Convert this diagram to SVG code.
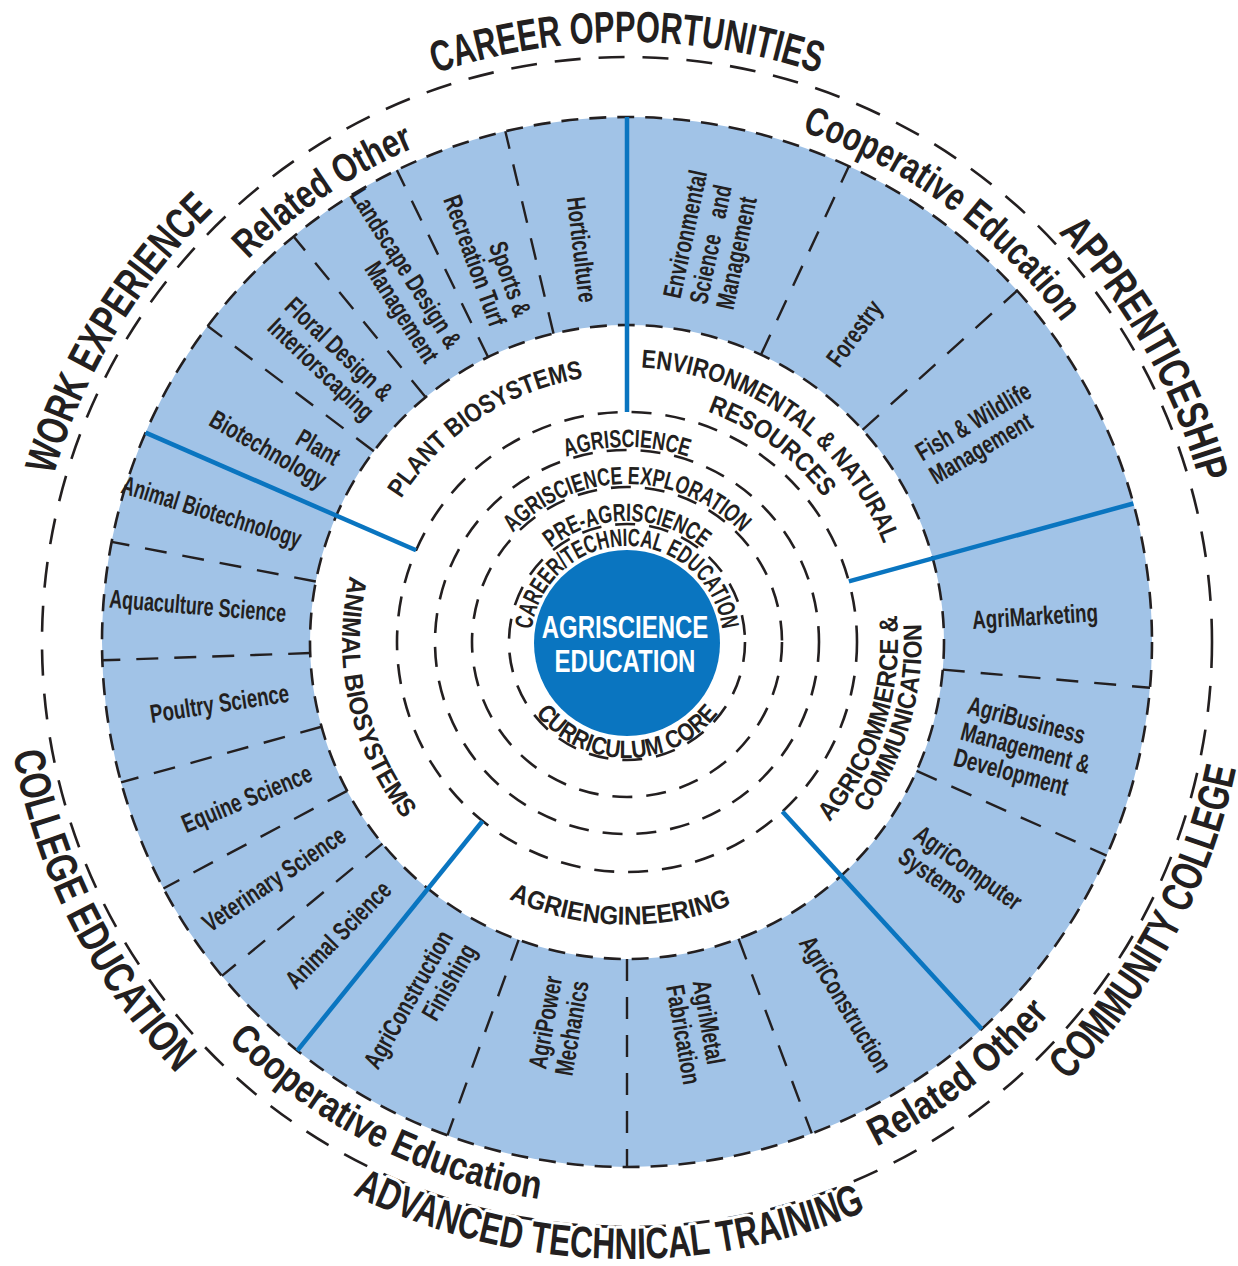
<svg xmlns="http://www.w3.org/2000/svg" width="1238" height="1266" viewBox="0 0 1238 1266">
<style>
text{font-family:"Liberation Sans",Arial,sans-serif;font-weight:bold;fill:#231f20}
.ring{fill:none;stroke:#a1c3e7;stroke-width:208}
.dash{fill:none;stroke:#231f20;stroke-width:2.6}
.edge{stroke-dasharray:17 11}
.inner{stroke-dasharray:20 14}
.outer{stroke-dasharray:26 18}
#dividers line{stroke:#231f20;stroke-width:2.4;stroke-dasharray:22 16}
#spokes line{stroke:#0a75c0;stroke-width:4.5}
.core{font-size:25px}
.title{font-size:26px}
.band{font-size:40px}
.big{font-size:44px}
.lbl{font-size:26px}
.hub{font-size:32px;fill:#fff}
.halo{stroke:#fff;stroke-width:6px;paint-order:stroke;stroke-linejoin:round}
</style>
<defs>
<!-- arcs used as text baselines; all share the centre (627,642) -->
<path id="a-cte" d="M531,642 A96,96 0 0 1 723,642"/>
<path id="a-pre" d="M506,642 A121,121 0 0 1 748,642"/>
<path id="a-exp" d="M469,642 A158,158 0 0 1 785,642"/>
<path id="a-agr" d="M432,642 A195,195 0 0 1 822,642"/>
<path id="a-cur" d="M511,642 A116,116 0 0 0 743,642"/>
<path id="a-plant" d="M403.52,789.92 A268,268 0 0 1 850.48,494.08"/>
<path id="a-env1" d="M404.52,480.36 A275,275 0 0 1 849.48,803.64"/>
<path id="a-env2" d="M430.86,496.86 A244,244 0 0 1 823.14,787.14"/>
<path id="a-com1" d="M543.26,899.74 A271,271 0 0 0 710.74,384.26"/>
<path id="a-com2" d="M545.41,926.53 A296,296 0 0 0 708.59,357.47"/>
<path id="a-eng" d="M343.10,634.57 A284,284 0 0 0 910.90,649.43"/>
<path id="a-ani" d="M565.31,363.75 A285,285 0 0 0 688.69,920.25"/>
<path id="a-rel1" d="M179.32,943.96 A540,540 0 0 1 1074.68,340.04"/>
<path id="a-coop1" d="M191.80,322.31 A540,540 0 0 1 1062.20,961.69"/>
<path id="a-rel2" d="M178.76,985.95 A565,565 0 0 0 1075.24,298.05"/>
<path id="a-coop2" d="M123.58,385.50 A565,565 0 0 0 1130.42,898.50"/>
<path id="a-career" d="M27,642 A600,600 0 0 1 1227,642"/>
<path id="a-work" d="M317.74,1152.74 A597,597 0 0 1 936.26,131.26"/>
<path id="a-appr" d="M333.03,122.40 A597,597 0 0 1 920.97,1161.60"/>
<path id="a-cc" d="M332.12,1189.66 A622,622 0 0 0 921.88,94.34"/>
<path id="a-adv" d="M10.30,622.62 A617,617 0 0 0 1243.70,661.38"/>
<path id="a-col" d="M343.71,86.01 A624,624 0 0 0 910.29,1197.99"/>
</defs>

<rect width="1238" height="1266" fill="#fff"/>

<!-- light blue band holding the programme areas -->
<g id="band">
<circle class="ring" cx="627" cy="642" r="421"/>
<circle class="dash edge" cx="627" cy="642" r="317"/>
<circle class="dash edge" cx="627" cy="642" r="525"/>
</g>

<!-- concentric level rings and the outer opportunity ring -->
<g id="levels">
<circle class="dash inner" cx="627" cy="642" r="118"/>
<circle class="dash inner" cx="627" cy="642" r="155"/>
<circle class="dash inner" cx="627" cy="642" r="192"/>
<circle class="dash inner" cx="627" cy="642" r="230"/>
<circle class="dash outer" cx="627" cy="642" r="585"/>
</g>

<g id="connectors">
<g id="dividers">
<line x1="373.83" y1="451.22" x2="207.71" y2="326.04"/>
<line x1="425.67" y1="397.14" x2="293.57" y2="236.47"/>
<line x1="488.04" y1="357.08" x2="396.86" y2="170.14"/>
<line x1="553.54" y1="333.63" x2="505.33" y2="131.29"/>
<line x1="760.97" y1="354.70" x2="848.87" y2="166.19"/>
<line x1="862.58" y1="429.89" x2="1017.15" y2="290.71"/>
<line x1="942.79" y1="669.63" x2="1150.0" y2="687.76"/>
<line x1="916.60" y1="770.94" x2="1106.61" y2="855.54"/>
<line x1="738.53" y1="938.73" x2="811.72" y2="1133.43"/>
<line x1="627" y1="959" x2="627" y2="1167"/>
<line x1="518.58" y1="939.88" x2="447.44" y2="1135.34"/>
<line x1="382.40" y1="843.64" x2="221.90" y2="975.94"/>
<line x1="347.10" y1="790.82" x2="163.45" y2="888.47"/>
<line x1="321.53" y1="726.72" x2="121.09" y2="782.30"/>
<line x1="310.19" y1="653.06" x2="102.32" y2="660.32"/>
<line x1="315.82" y1="581.51" x2="111.64" y2="541.82"/>
</g>
<g id="spokes">
<line x1="627" y1="412" x2="627" y2="117"/>
<line x1="416.08" y1="550.29" x2="145.54" y2="432.66"/>
<line x1="848.85" y1="581.31" x2="1133.39" y2="503.47"/>
<line x1="782.39" y1="811.57" x2="981.68" y2="1029.07"/>
<line x1="482.57" y1="821.0" x2="297.32" y2="1050.58"/>
</g>
</g>

<g id="hub">
<circle cx="627" cy="643" r="93" fill="#0a75c0"/>
<text class="hub" text-anchor="middle" transform="translate(625 638) scale(.75 1)">AGRISCIENCE</text>
<text class="hub" text-anchor="middle" transform="translate(625 672) scale(.75 1)">EDUCATION</text>
</g>

<g id="curriculum-levels">
<text class="core"><textPath href="#a-cte" startOffset="50%" text-anchor="middle" textLength="276" lengthAdjust="spacingAndGlyphs">CAREER/TECHNICAL EDUCATION</textPath></text>
<text class="core"><textPath href="#a-pre" startOffset="50%" text-anchor="middle" textLength="165" lengthAdjust="spacingAndGlyphs">PRE-AGRISCIENCE</textPath></text>
<text class="core"><textPath href="#a-exp" startOffset="50%" text-anchor="middle" textLength="255" lengthAdjust="spacingAndGlyphs">AGRISCIENCE EXPLORATION</textPath></text>
<text class="core"><textPath href="#a-agr" startOffset="50%" text-anchor="middle" textLength="124" lengthAdjust="spacingAndGlyphs">AGRISCIENCE</textPath></text>
<text class="core"><textPath href="#a-cur" startOffset="50%" text-anchor="middle" textLength="210" lengthAdjust="spacingAndGlyphs">CURRICULUM CORE</textPath></text>
</g>

<g id="plant-biosystems">
<text class="title"><textPath href="#a-plant" startOffset="50%" text-anchor="middle" textLength="225" lengthAdjust="spacingAndGlyphs">PLANT BIOSYSTEMS</textPath></text>
<text class="lbl" text-anchor="end" transform="translate(330.82 471) rotate(30) scale(.72 1)"><tspan x="0" y="-5.5">Plant</tspan><tspan x="0" y="21.5">Biotechnology</tspan></text>
<text class="lbl" text-anchor="end" transform="translate(378.92 406.58) rotate(43.5) scale(.72 1)"><tspan x="0" y="-5.5">Floral Design &amp;</tspan><tspan x="0" y="21.5">Interiorscaping</tspan></text>
<text class="lbl" text-anchor="end" transform="translate(443.24 353.56) rotate(57.5) scale(.72 1)"><tspan x="0" y="-5.5">Landscape Design &amp;</tspan><tspan x="0" y="21.5">Management</tspan></text>
<text class="lbl" text-anchor="end" transform="translate(510.03 320.63) rotate(70) scale(.72 1)"><tspan x="0" y="-5.5">Sports &amp;</tspan><tspan x="0" y="21.5">Recreation Turf</tspan></text>
<text class="lbl" text-anchor="end" transform="translate(587.10 302.34) rotate(83.3) scale(.72 1)" y="8">Horticulture</text>
</g>

<g id="environmental-natural-resources">
<text class="title"><textPath href="#a-env1" startOffset="50%" text-anchor="middle" textLength="317" lengthAdjust="spacingAndGlyphs">ENVIRONMENTAL &amp; NATURAL</textPath></text>
<text class="title"><textPath href="#a-env2" startOffset="50%" text-anchor="middle" textLength="147" lengthAdjust="spacingAndGlyphs">RESOURCES</textPath></text>
<text class="lbl" transform="translate(698.94 303.56) rotate(-78) scale(.72 1)"><tspan x="0" y="-19">Environmental</tspan><tspan x="0" y="8">Science <tspan dx="16">and</tspan></tspan><tspan x="0" y="35">Management</tspan></text>
<text class="lbl" transform="translate(832.81 363.86) rotate(-53.5) scale(.72 1)" y="8">Forestry</text>
<text class="lbl" transform="translate(925.12 466.39) rotate(-30.5) scale(.72 1)"><tspan x="0" y="-5.5">Fish &amp; Wildlife</tspan><tspan x="0" y="21.5">Management</tspan></text>
</g>

<g id="agricommerce-communication">
<text class="title"><textPath href="#a-com1" startOffset="50%" text-anchor="middle" textLength="224" lengthAdjust="spacingAndGlyphs">AGRICOMMERCE &amp;</textPath></text>
<text class="title"><textPath href="#a-com2" startOffset="50%" text-anchor="middle" textLength="201" lengthAdjust="spacingAndGlyphs">COMMUNICATION</textPath></text>
<text class="lbl" transform="translate(972.35 620.88) rotate(-3.5) scale(.72 1)" y="8">AgriMarketing</text>
<text class="lbl" transform="translate(961.21 731.55) rotate(15) scale(.72 1)"><tspan x="0" y="-19">AgriBusiness</tspan><tspan x="0" y="8">Management &amp;</tspan><tspan x="0" y="35">Development</tspan></text>
<text class="lbl" transform="translate(908.69 842.92) rotate(35.5) scale(.72 1)"><tspan x="0" y="-5.5">AgriComputer</tspan><tspan x="0" y="21.5">Systems</tspan></text>
</g>

<g id="agriengineering">
<text class="title"><textPath href="#a-eng" startOffset="50%" text-anchor="middle" textLength="229" lengthAdjust="spacingAndGlyphs">AGRIENGINEERING</textPath></text>
<text class="lbl" transform="translate(805.20 938.58) rotate(59) scale(.72 1)" y="8">AgriConstruction</text>
<text class="lbl" transform="translate(687.08 982.74) rotate(80) scale(.72 1)"><tspan x="0" y="-5.5">AgriMetal</tspan><tspan x="0" y="21.5">Fabrication</tspan></text>
<text class="lbl" text-anchor="end" transform="translate(567.61 978.80) rotate(-80) scale(.72 1)"><tspan x="0" y="-5.5">AgriPower</tspan><tspan x="0" y="21.5">Mechanics</tspan></text>
<text class="lbl" text-anchor="end" transform="translate(458.59 939.66) rotate(-60.5) scale(.72 1)"><tspan x="0" y="-5.5">AgriConstruction</tspan><tspan x="0" y="21.5">Finishing</tspan></text>
</g>

<g id="animal-biosystems">
<text class="title"><textPath href="#a-ani" startOffset="50%" text-anchor="middle" textLength="258" lengthAdjust="spacingAndGlyphs">ANIMAL BIOSYSTEMS</textPath></text>
<text class="lbl" text-anchor="end" transform="translate(300.47 540.30) rotate(17.3) scale(.68 1)" y="8">Animal Biotechnology</text>
<text class="lbl" text-anchor="end" transform="translate(286.15 613.98) rotate(4.7) scale(.69 1)" y="8">Aquaculture Science</text>
<text class="lbl" text-anchor="end" transform="translate(288.94 693.73) rotate(-8.7) scale(.72 1)" y="8">Poultry Science</text>
<text class="lbl" text-anchor="end" transform="translate(311.03 772.88) rotate(-22.5) scale(.72 1)" y="8">Equine Science</text>
<text class="lbl" text-anchor="end" transform="translate(343.47 833.24) rotate(-34) scale(.72 1)" y="8">Veterinary Science</text>
<text class="lbl" text-anchor="end" transform="translate(387.29 885.93) rotate(-45.5) scale(.72 1)" y="8">Animal Science</text>
</g>

<g id="experience-options">
<text class="band"><textPath href="#a-rel1" startOffset="50%" text-anchor="middle" textLength="202" lengthAdjust="spacingAndGlyphs">Related Other</textPath></text>
<text class="band"><textPath href="#a-coop1" startOffset="50%" text-anchor="middle" textLength="328" lengthAdjust="spacingAndGlyphs">Cooperative Education</textPath></text>
<text class="band"><textPath href="#a-rel2" startOffset="50%" text-anchor="middle" textLength="220" lengthAdjust="spacingAndGlyphs">Related Other</textPath></text>
<text class="band"><textPath href="#a-coop2" startOffset="50%" text-anchor="middle" textLength="355" lengthAdjust="spacingAndGlyphs">Cooperative Education</textPath></text>
</g>

<g id="pathways">
<text class="big"><textPath href="#a-career" startOffset="50%" text-anchor="middle" textLength="390" lengthAdjust="spacingAndGlyphs">CAREER OPPORTUNITIES</textPath></text>
<text class="big"><textPath href="#a-work" startOffset="50%" text-anchor="middle" textLength="313" lengthAdjust="spacingAndGlyphs">WORK EXPERIENCE</textPath></text>
<text class="big"><textPath href="#a-appr" startOffset="50%" text-anchor="middle" textLength="291" lengthAdjust="spacingAndGlyphs">APPRENTICESHIP</textPath></text>
<text class="big"><textPath href="#a-cc" startOffset="50%" text-anchor="middle" textLength="360" lengthAdjust="spacingAndGlyphs">COMMUNITY COLLEGE</textPath></text>
<text class="big halo"><textPath href="#a-adv" startOffset="50%" text-anchor="middle" textLength="530" lengthAdjust="spacingAndGlyphs">ADVANCED TECHNICAL TRAINING</textPath></text>
<text class="big"><textPath href="#a-col" startOffset="50%" text-anchor="middle" textLength="365" lengthAdjust="spacingAndGlyphs">COLLEGE EDUCATION</textPath></text>
</g>
</svg>
